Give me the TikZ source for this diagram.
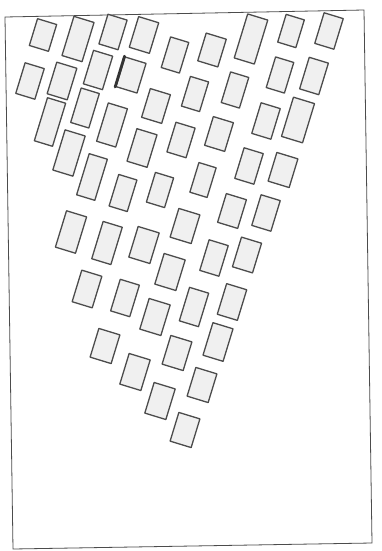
\documentclass[tikz,border=0pt]{standalone}
\begin{document}
\begin{tikzpicture}[x=1pt,y=-1pt,
  bx/.style={draw=black!70, line width=1.3pt, fill=black!6, inner sep=0pt, rotate=-17, line join=round},
  frame/.style={draw=black!70, line width=0.8pt}]
\useasboundingbox[fill=white] (0,0) rectangle (381,551);
% frame
\coordinate (f1) at (5,17);
\coordinate (f2) at (364,10);
\coordinate (f3) at (372,543);
\coordinate (f4) at (13,549);
\draw[frame] (f1) -- (f2) -- (f3) -- (f4) -- cycle;
% rectangles: name, centre, width, height
\foreach \n/\x/\y/\w/\h in {
 1/43/35/20/28, 2/78/39/21/41, 3/113/32/20/31, 4/144/35/21/32,
 5/175/55/19/32, 6/212/50/21/29, 7/251/39/21/46, 8/291/31/19/29, 9/329/31/20/32,
 10/30/81/20/32, 11/62/81/21/33, 12/98/70/20/35, 13/131/75/22/31,
 14/156/106/21/30, 15/195/94/19/31, 16/235/90/19/32, 17/280/75/19/32, 18/314/76/20/33,
 19/50/122/19/45, 20/85/108/19/36, 21/112/125/20/40, 22/142/148/21/34,
 23/181/140/20/31, 24/219/134/21/30, 25/266/121/20/32, 26/298/120/22/41,
 27/69/153/21/42, 28/92/177/19/43, 29/123/193/19/33, 30/160/190/19/31,
 31/203/180/18/31, 32/249/166/20/32, 33/283/170/22/30,
 34/71/232/21/38, 35/107/243/20/39, 36/144/245/22/32, 37/185/226/22/30,
 38/232/211/21/30, 39/266/213/20/32,
 40/170/272/22/32, 41/214/258/20/32, 42/247/255/21/31,
 43/87/289/21/33, 44/125/298/20/33, 45/155/317/22/32, 46/194/307/20/35, 47/232/302/21/32,
 48/105/346/22/30, 49/135/372/22/32, 50/177/353/22/30, 51/218/342/21/34,
 53/202/385/22/30, 54/160/401/22/32, 55/185/430/22/30}
 \node[bx, minimum width=\w pt, minimum height=\h pt] (r\n) at (\x,\y) {};
% heavier shaded edge of one rectangle
\draw[black!80, line width=2.8pt, line cap=round] (r13.north west) -- (r13.south west);
\end{tikzpicture}
\end{document}
